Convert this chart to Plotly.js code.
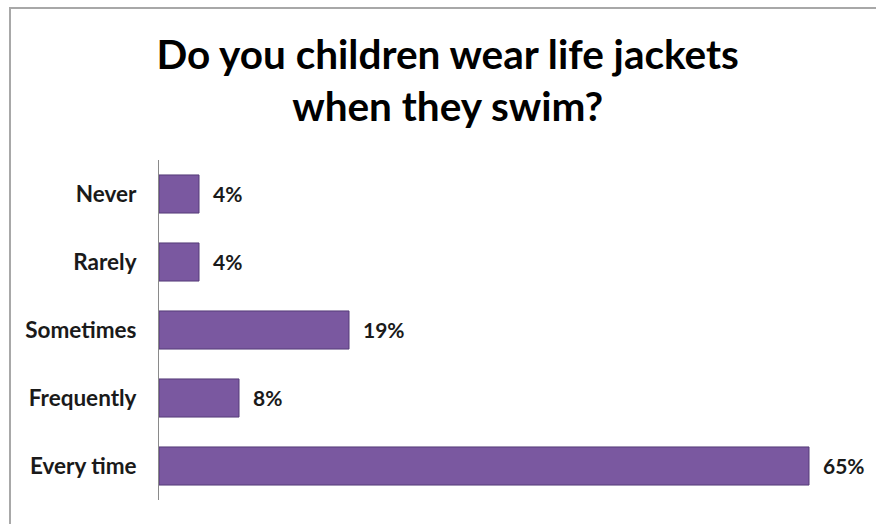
<!DOCTYPE html>
<html>
<head>
<meta charset="utf-8">
<script src="https://cdn.plot.ly/plotly-3.0.1.min.js"></script>
<style>
  html, body { margin: 0; padding: 0; background: #ffffff; overflow: hidden; }
  #frame { position: absolute; left: 9px; top: 7px; width: 900px; height: 600px;
           border-left: 2px solid #a8a8a8; border-top: 2px solid #a8a8a8; }
  #chart { position: absolute; left: 0; top: 0; width: 876px; height: 524px; }
</style>
</head>
<body>
<div id="frame"></div>
<div id="chart"></div>
<script>
const categories = ["Never", "Rarely", "Sometimes", "Frequently", "Every time"];
const values = [4, 4, 19, 8, 65];
const valueLabels = ["4%", "4%", "19%", "8%", "65%"];

const trace = {
  type: "bar",
  orientation: "h",
  y: categories,
  x: values,
  width: 0.56,
  marker: { color: "#7a58a0", line: { color: "#553b78", width: 1 } },
  hoverinfo: "skip"
};

const annotations = categories.map((c, i) => ({
  x: values[i], y: c, xref: "x", yref: "y",
  text: valueLabels[i], showarrow: false,
  xanchor: "left", xshift: 12, yshift: 1,
  font: { family: "Lato, 'Open Sans', sans-serif", size: 21, color: "#1a1a1a", weight: "bold" }
}));

const layout = {
  width: 876, height: 524,
  margin: { l: 159, r: 17, t: 160, b: 24 },
  paper_bgcolor: "rgba(0,0,0,0)",
  plot_bgcolor: "rgba(0,0,0,0)",
  showlegend: false,
  title: {
    text: "<b>Do you children wear life jackets<br>when they swim?</b>",
    x: 0.511, xanchor: "center",
    y: 0.869, yanchor: "top", yref: "container",
    font: { family: "Lato, 'Open Sans', sans-serif", size: 40.5, color: "#000000" }
  },
  xaxis: {
    range: [0, 70], showgrid: false, zeroline: false, showticklabels: false,
    showline: false, fixedrange: true
  },
  yaxis: {
    type: "category", autorange: "reversed",
    showgrid: false, zeroline: false, showline: true, linecolor: "#8a8a8a", linewidth: 1,
    ticks: "outside", ticklen: 17, tickcolor: "rgba(0,0,0,0)",
    tickfont: { family: "Lato, 'Open Sans', sans-serif", size: 22.5, color: "#1a1a1a", weight: "bold" },
    fixedrange: true
  },
  annotations: annotations
};

Plotly.newPlot("chart", [trace], layout, { displayModeBar: false, staticPlot: true });
</script>
</body>
</html>
